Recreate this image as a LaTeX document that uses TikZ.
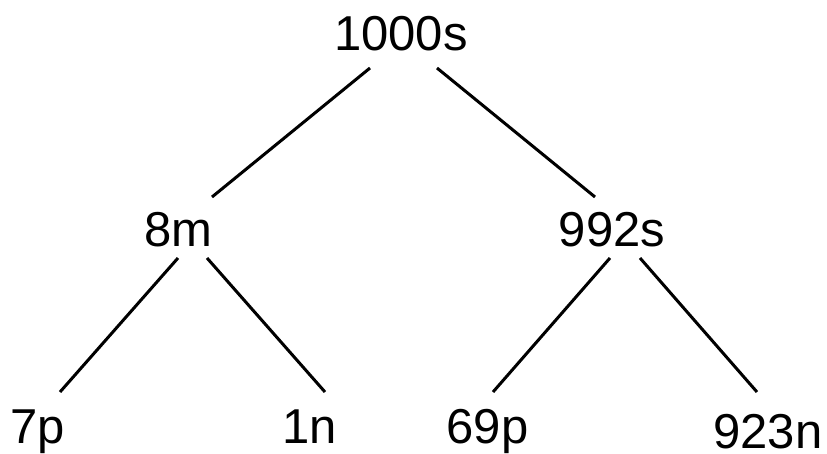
\documentclass[tikz,border=0pt]{standalone}
\usepackage{fontspec}
\setmainfont{Liberation Sans}
\begin{document}
\begin{tikzpicture}[x=1pt,y=1pt,
  lbl/.style={anchor=base,inner sep=0pt,font=\fontsize{49}{58}\selectfont},
  edge/.style={line width=3pt,black}]
\useasboundingbox (0,0) rectangle (827,-453);
\node[lbl] (r) at (401,-50) {1000s};
\node[lbl] (a) at (178.5,-246) {8m};
\node[lbl] (b) at (612,-246) {992s};
\node[lbl] (c) at (37.5,-443) {7p};
\node[lbl] (d) at (310,-443) {1n};
\node[lbl] (e) at (487.5,-443) {69p};
\node[lbl] (f) at (768,-448) {923n};
\draw[edge] ([shift={(-31,-18)}]r.base) -- ([shift={(33.5,49)}]a.base);
\draw[edge] ([shift={(36,-18)}]r.base) -- ([shift={(-17,49)}]b.base);
\draw[edge] ([shift={(-0.5,-12)}]a.base) -- ([shift={(22.5,51)}]c.base);
\draw[edge] ([shift={(28.5,-12)}]a.base) -- ([shift={(15,51)}]d.base);
\draw[edge] ([shift={(-2,-12)}]b.base) -- ([shift={(5.5,51)}]e.base);
\draw[edge] ([shift={(28,-12)}]b.base) -- ([shift={(-11,56)}]f.base);
\end{tikzpicture}
\end{document}
